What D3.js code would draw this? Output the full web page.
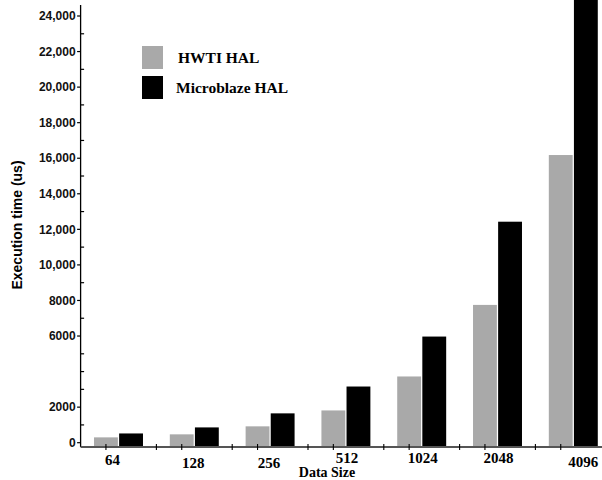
<!DOCTYPE html>
<html><head><meta charset="utf-8">
<script src="https://cdn.jsdelivr.net/npm/d3@7"></script>
<style>body{margin:0;background:#fff}svg{display:block}</style>
</head><body>
<script>
const categories = ["64","128","256","512","1024","2048","4096"];
const seriesNames = ["HWTI HAL","Microblaze HAL"];
const hwti = [300, 470, 920, 1815, 3725, 7750, 16180];
const microblaze = [520, 860, 1650, 3160, 5970, 12430, 26000];
const yTickValues = [0,2000,6000,8000,10000,12000,14000,16000,18000,20000,22000,24000];
const labelOffsets = [0, 3, 3, -2, -2, -2, 2];

const W = 602, H = 480;
const colors = ["#a9a9a9", "#000000"];
const svg = d3.select("body").append("svg").attr("width", W).attr("height", H);

const axisX = 80.6, axisY = 447;
const y = d3.scaleLinear().domain([0, 24000]).range([442.7, 16]);
const x = d3.scaleBand().domain(categories).range([80.6, 611.2]).paddingInner(0.354).paddingOuter(0.177);
const xs = d3.scaleBand().domain(seriesNames).range([0, x.bandwidth()]).paddingInner(0.05);

// bars
const data = [hwti, microblaze];
seriesNames.forEach((s, si) => {
  svg.append("g").selectAll("rect").data(categories).join("rect")
    .attr("x", c => x(c) + xs(s))
    .attr("y", (c, i) => y(data[si][i]))
    .attr("width", xs.bandwidth())
    .attr("height", (c, i) => axisY - y(data[si][i]))
    .attr("fill", colors[si]);
});

// y axis
const ga = svg.append("g").attr("stroke", "#000");
ga.append("line").attr("x1", axisX).attr("x2", axisX).attr("y1", 5).attr("y2", axisY).attr("stroke-width", 1.3);
const minor = d3.range(1000, 25000, 1000).filter(v => !yTickValues.includes(v));
ga.selectAll(".mn").data(minor).join("line")
  .attr("x1", axisX).attr("x2", axisX + 3.5).attr("y1", d => y(d)).attr("y2", d => y(d)).attr("stroke-width", 1.2);
ga.selectAll(".mj").data(yTickValues).join("line")
  .attr("x1", axisX - 3.5).attr("x2", axisX).attr("y1", d => y(d)).attr("y2", d => y(d)).attr("stroke-width", 1.2);
const fmt = d => d >= 10000 ? d3.format(",")(d) : String(d);
svg.append("g").selectAll("text").data(yTickValues).join("text")
  .attr("x", axisX - 5).attr("y", d => y(d)).attr("dy", "0.35em")
  .attr("text-anchor", "end").attr("font-family", "Liberation Sans, Arial, sans-serif")
  .attr("font-weight", "bold").attr("font-size", "12px").attr("fill", "#111").text(fmt);

svg.append("text").attr("transform", "translate(22,225) rotate(-90)")
  .attr("text-anchor", "middle").attr("font-family", "Liberation Sans, Arial, sans-serif")
  .attr("font-weight", "bold").attr("font-size", "14px").text("Execution time (us)");

// x axis
svg.append("line").attr("x1", axisX).attr("x2", W).attr("y1", axisY).attr("y2", axisY)
  .attr("stroke", "#555").attr("stroke-width", 1.8);
const greyCenters = categories.map(c => x(c) + xs(seriesNames[0]) + xs.bandwidth() / 2);
const between = categories.slice(1).map(c => x(c) - (x.step() - x.bandwidth()) / 2);
svg.append("g").selectAll("line").data(greyCenters.concat(between)).join("line")
  .attr("x1", d => d).attr("x2", d => d).attr("y1", axisY - 3).attr("y2", axisY + 3)
  .attr("stroke", "#000").attr("stroke-width", 1.1);

svg.append("g").selectAll("text").data(categories).join("text")
  .attr("x", (c, i) => x(c) + x.bandwidth() / 2 - 6 + (i === 0 ? 0 : i === 6 ? 16 : 5 + (i > 2 ? 2 : 0)))
  .attr("y", (c, i) => 465 + labelOffsets[i])
  .attr("text-anchor", "middle").attr("font-family", "Liberation Serif, Times New Roman, serif")
  .attr("font-weight", "bold").attr("font-size", "15px").text(c => c);

svg.append("text").attr("x", 327).attr("y", 477).attr("text-anchor", "middle")
  .attr("font-family", "Liberation Serif, Times New Roman, serif")
  .attr("font-weight", "bold").attr("font-size", "14px").text("Data Size");

// legend
const lg = svg.append("g");
seriesNames.forEach((s, i) => {
  lg.append("rect").attr("x", 142).attr("y", 46 + i * 30).attr("width", 21).attr("height", 23).attr("fill", colors[i]);
  lg.append("text").attr("x", i === 0 ? 178 : 176).attr("y", 63 + i * 30)
    .attr("font-family", "Liberation Serif, Times New Roman, serif")
    .attr("font-weight", "bold").attr("font-size", "15.5px").text(s);
});
</script>
</body></html>
